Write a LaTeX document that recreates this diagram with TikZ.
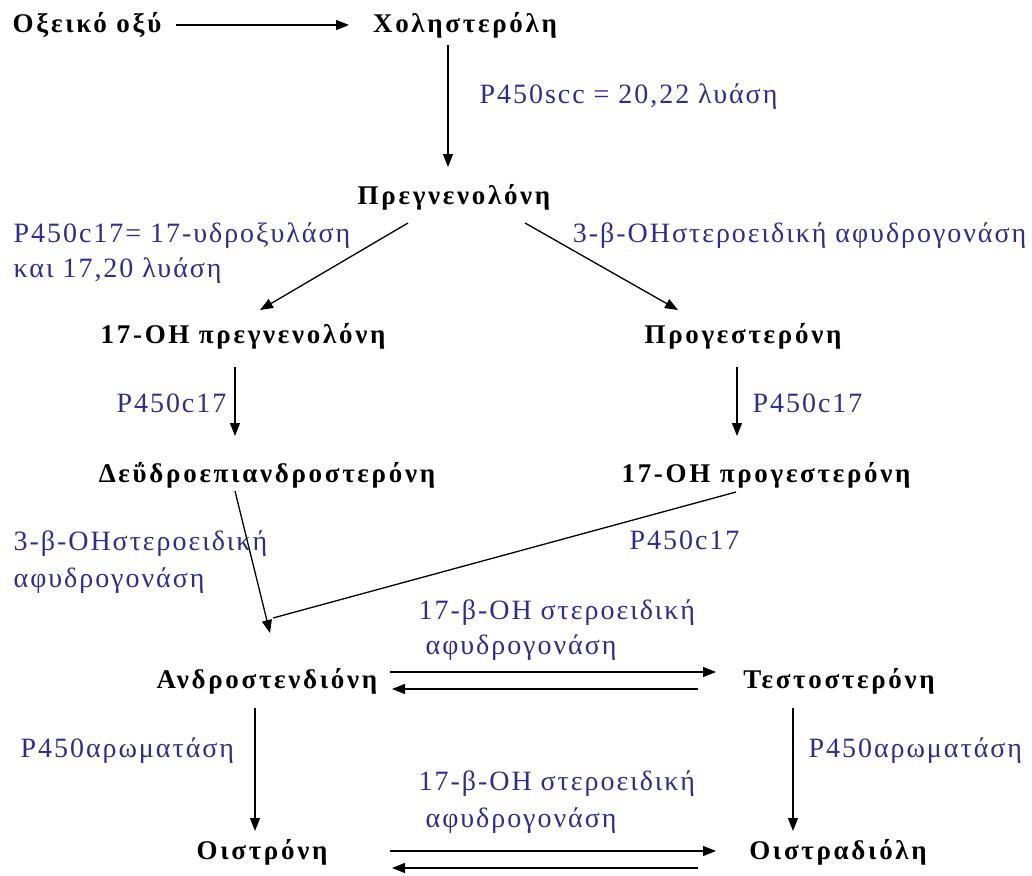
\documentclass[tikz,border=0pt]{standalone}
\usepackage{fontspec}
\setmainfont{Liberation Serif}
\newfontfamily\metabfont[LetterSpace=10]{Liberation Serif}
\newfontfamily\enzfont[LetterSpace=7]{Liberation Serif}
\usepackage{tikz}
\usetikzlibrary{arrows.meta}
\definecolor{enzc}{HTML}{2E2E8E}
\tikzset{
  metab/.style={inner sep=0pt, text height=17pt, text depth=5pt,
        font=\metabfont\fontsize{27}{30}\selectfont\bfseries},
  enz/.style={inner sep=0pt, anchor=base west, text=enzc,
        font=\enzfont\fontsize{28}{30}\selectfont},
}

\begin{document}
\begin{tikzpicture}[x=1pt, y=-1pt, line width=1.3pt,
      >={Triangle[length=13pt, width=10pt]}]
    \useasboundingbox (0,0) rectangle (1032,875);
    % metabolites
    \node[metab] (acid)  at (87,27)   {Οξεικό οξύ};
    \node[metab] (chol)  at (465,27)  {Χοληστερόλη};
    \node[metab] (preg)  at (454,198) {Πρεγνενολόνη};
    \node[metab] (ohpreg) at (243,337) {17-OH πρεγνενολόνη};
    \node[metab] (prog)  at (743,337) {Προγεστερόνη};
    \node[metab] (dhea)  at (267,476) {Δεΰδροεπιανδροστερόνη};
    \node[metab] (ohprog) at (766,476) {17-OH προγεστερόνη};
    \node[metab] (andro) at (267,682) {Ανδροστενδιόνη};
    \node[metab] (testo) at (839,682) {Τεστοστερόνη};
    \node[metab] (estrone) at (262,853) {Οιστρόνη};
    \node[metab] (estradiol) at (838,853) {Οιστραδιόλη};
    % enzymes
    \node[enz] (scc)    at (479,103) {P450scc = 20,22 λυάση};
    \node[enz] (lyA)    at (13,242)  {P450c17= 17-υδροξυλάση};
    \node[enz] (lyB)    at (13,277)  {και 17,20 λυάση};
    \node[enz, anchor=base east] (hsdA) at (1027,242) {3-β-OHστεροειδική αφυδρογονάση};
    \node[enz, anchor=base east] (cypL) at (227,412) {P450c17};
    \node[enz] (cypR)   at (752,412) {P450c17};
    \node[enz] (hsdB)   at (13,550)  {3-β-OHστεροειδική};
    \node[enz] (hsdC)   at (13,587)  {αφυδρογονάση};
    \node[enz] (cypM)   at (629,549) {P450c17};
    \node[enz] (hsdD)   at (418,619) {17-β-OH στεροειδική};
    \node[enz] (hsdE)   at (425,654) {αφυδρογονάση};
    \node[enz] (aroL)   at (20,757)  {P450αρωματάση};
    \node[enz] (aroR)   at (808,757) {P450αρωματάση};
    \node[enz] (hsdF)   at (418,790) {17-β-OH στεροειδική};
    \node[enz] (hsdG)   at (425,827) {αφυδρογονάση};
    % reactions
    \draw[->] ([xshift=89pt, yshift=2pt]acid.center) -- ([xshift=-116pt, yshift=2pt]chol.center);
    \draw[->] ([xshift=-17pt, yshift=-18pt]chol.center) -- ([xshift=-6pt, yshift=31pt]preg.center);
    \draw[->] ([xshift=-46pt, yshift=-25pt]preg.center) -- ([xshift=17pt, yshift=27pt]ohpreg.center);
    \draw[->] ([xshift=71pt, yshift=-25pt]preg.center) -- ([xshift=-65pt, yshift=27pt]prog.center);
    \draw[->] ([xshift=-8pt, yshift=-30pt]ohpreg.center) -- ([xshift=-32pt, yshift=40pt]dhea.center);
    \draw[->] ([xshift=-6pt, yshift=-30pt]prog.center) -- ([xshift=-29pt, yshift=40pt]ohprog.center);
    \draw[->] ([xshift=-32pt, yshift=-15pt]dhea.center) -- ([xshift=3pt, yshift=49pt]andro.center);
    \draw ([xshift=-30pt, yshift=-16pt]ohprog.center) -- ([xshift=6pt, yshift=64pt]andro.center);
    \draw[->] ([xshift=123pt, yshift=10pt]andro.center) -- ([xshift=-123pt, yshift=10pt]testo.center);
    \draw[->] ([xshift=-141pt, yshift=-7pt]testo.center) -- ([xshift=125pt, yshift=-7pt]andro.center);
    \draw[->] ([xshift=-12pt, yshift=-26pt]andro.center) -- ([xshift=-7pt, yshift=22pt]estrone.center);
    \draw[->] ([xshift=-46pt, yshift=-26pt]testo.center) -- ([xshift=-45pt, yshift=22pt]estradiol.center);
    \draw[->] ([xshift=128pt, yshift=2pt]estrone.center) -- ([xshift=-122pt, yshift=2pt]estradiol.center);
    \draw[->] ([xshift=-140pt, yshift=-15pt]estradiol.center) -- ([xshift=130pt, yshift=-15pt]estrone.center);
\end{tikzpicture}
\end{document}
